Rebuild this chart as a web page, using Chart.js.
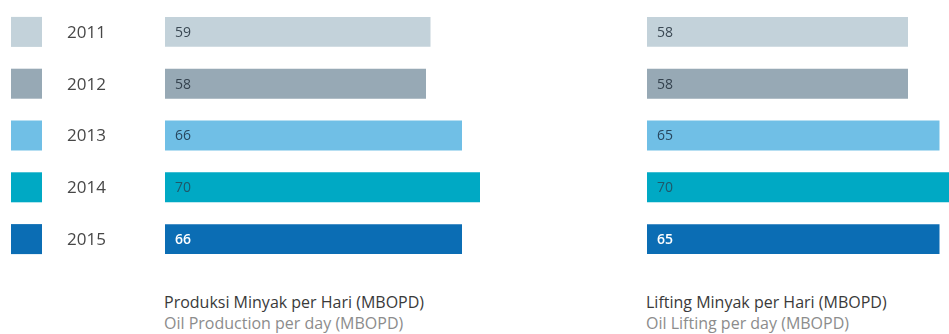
<!DOCTYPE html>
<html>
<head>
<meta charset="utf-8">
<script src="https://cdn.jsdelivr.net/npm/chart.js@4.4.1/dist/chart.umd.min.js"></script>
<style>
  html, body { margin: 0; padding: 0; background: #fff; width: 949px; height: 334px; overflow: hidden; }
  canvas { position: absolute; top: 0; }
  #production { left: 0; }
  #lifting { left: 482px; }
  .caption { position: absolute; top: 292px; font-family: "Open Sans", sans-serif; font-size: 16px; line-height: 21px; white-space: nowrap; }
  .caption .id { color: #3a3a3a; }
  .caption .en { color: #8c8c8c; }
</style>
</head>
<body>
<canvas id="production" width="480" height="270"></canvas>
<canvas id="lifting" width="480" height="270"></canvas>
<div class="caption" style="left:164px">
  <div class="id">Produksi Minyak per Hari (MBOPD)</div>
  <div class="en">Oil Production per day (MBOPD)</div>
</div>
<div class="caption" style="left:646px">
  <div class="id">Lifting Minyak per Hari (MBOPD)</div>
  <div class="en">Oil Lifting per day (MBOPD)</div>
</div>
<script>
const years = ['2011', '2012', '2013', '2014', '2015'];
const productionValues = [59, 58, 66, 70, 66];
const liftingValues = [58, 58, 65, 70, 65];

const barColors = ['#c3d2da', '#97a9b5', '#70bfe6', '#00a9c4', '#0b6db4'];
const labelColors = ['#3a4853', '#34424e', '#28475f', '#1f5869', '#ffffff'];

// legend squares + year names, placed on the y scale of the left chart
const yearLegend = {
  id: 'yearLegend',
  afterDraw(chart) {
    const ctx = chart.ctx;
    const y = chart.scales.y;
    ctx.save();
    years.forEach((yr, i) => {
      const py = y.getPixelForValue(i);
      ctx.fillStyle = barColors[i];
      ctx.fillRect(11, py - 15, 31, 30);
      ctx.fillStyle = '#474747';
      ctx.font = '17px "Open Sans"';
      ctx.textBaseline = 'middle';
      ctx.fillText(yr, 67, py + 1);
    });
    ctx.restore();
  }
};

// value written just inside the start of each bar
const barValues = {
  id: 'barValues',
  afterDatasetsDraw(chart) {
    const ctx = chart.ctx;
    const data = chart.data.datasets[0].data;
    ctx.save();
    chart.getDatasetMeta(0).data.forEach((bar, i) => {
      ctx.fillStyle = labelColors[i];
      ctx.font = (i === data.length - 1 ? '600 ' : '') + '14px "Open Sans"';
      ctx.textBaseline = 'middle';
      ctx.fillText(data[i], bar.base + 10, bar.y + 1);
    });
    ctx.restore();
  }
};

function makeChart(id, values, extra) {
  return new Chart(document.getElementById(id), {
    type: 'bar',
    data: {
      labels: years,
      datasets: [{
        data: values,
        backgroundColor: barColors,
        borderWidth: 0,
        categoryPercentage: 1,
        barPercentage: 30 / 52
      }]
    },
    options: {
      indexAxis: 'y',
      responsive: false,
      animation: false,
      layout: { padding: { left: 165, right: 0, top: 6, bottom: 5 } },
      scales: {
        x: { display: false, min: 0, max: 70 },
        y: { display: false }
      },
      plugins: {
        legend: { display: false },
        tooltip: { enabled: false }
      }
    },
    plugins: extra
  });
}

makeChart('production', productionValues, [barValues, yearLegend]);
makeChart('lifting', liftingValues, [barValues]);
</script>
</body>
</html>
